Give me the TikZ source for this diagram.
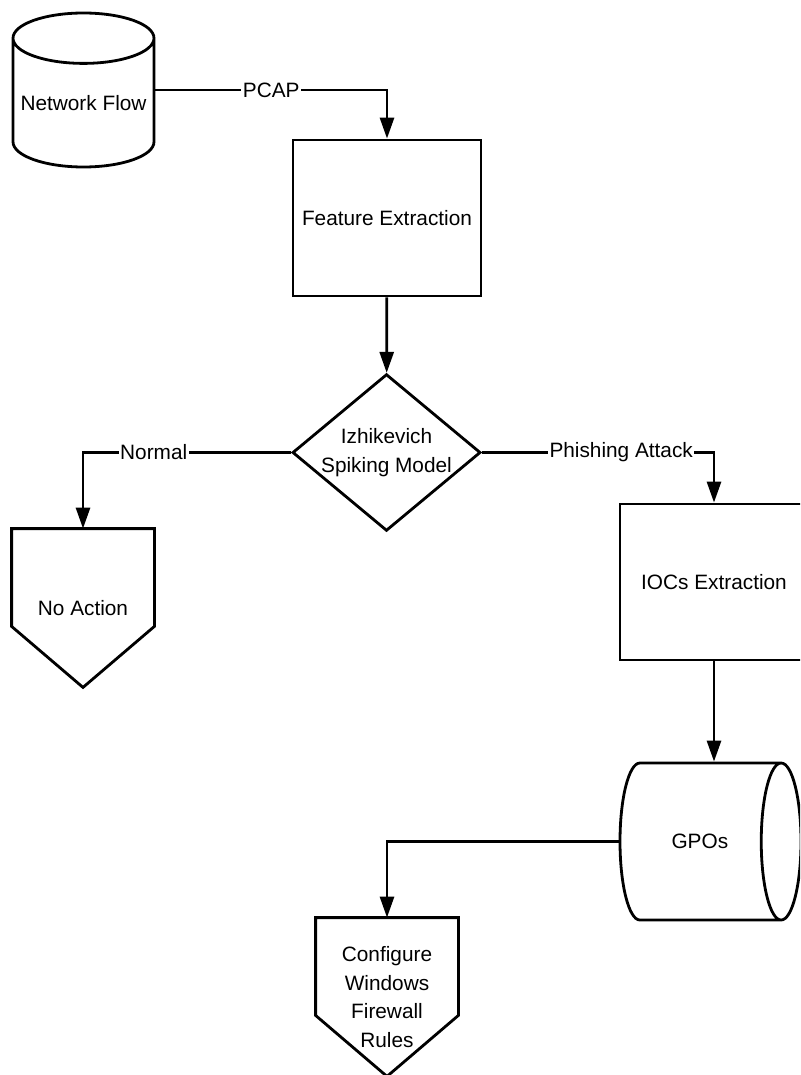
\documentclass[tikz,border=0pt]{standalone}
\usepackage{fontspec}
\setmainfont{Liberation Sans}
\usetikzlibrary{shapes.geometric}
\usetikzlibrary{arrows.meta}

\tikzset{
  flow/.style={-{Triangle[length=21pt,width=14pt]}},
  tag/.style={fill=white, inner sep=1.5pt},
  store/.style={cylinder, draw, aspect=0.4, inner sep=0pt, anchor=shape center},
  process/.style={rectangle, draw, minimum width=188pt, minimum height=156pt},
  decision/.style={diamond, draw, aspect=1.2, inner sep=0pt, align=center,
    minimum width=187pt, minimum height=155pt},
  offpage/.style={rectangle, minimum width=140pt, minimum height=156pt,
    inner sep=0pt, align=center,
    append after command={\pgfextra{
      \draw[line join=miter] (\tikzlastnode.north west) -- (\tikzlastnode.north east)
        -- ([yshift=61pt]\tikzlastnode.south east) -- (\tikzlastnode.south)
        -- ([yshift=61pt]\tikzlastnode.south west) -- cycle;}}}
}

\begin{document}
\begin{tikzpicture}[x=1pt, y=-1pt, line width=2.8pt,
  font=\fontsize{20.8}{28.5}\selectfont]
\useasboundingbox (0,0) rectangle (800,1075);
\clip (0,0) rectangle (800,1075);

\node[store, shape border rotate=90, minimum height=154pt, minimum width=141pt]
  (netflow) at (83.5,90) {Network Flow};
\node[process] (feature) at (387,218) {Feature Extraction};
\node[decision] (izhikevich) at (386.5,452.5) {Izhikevich\\Spiking Model};
\node[offpage] (noaction) at (83,608) {No Action};
\node[process] (iocs) at (714,582) {IOCs Extraction};
\node[store, aspect=2.7, minimum height=181pt, minimum width=157pt]
  (gpos) at (710.5,841.5) {GPOs};
\node[offpage] (firewall) at (387,997) {Configure\\Windows\\Firewall\\Rules};

\draw[flow] (netflow.east |- netflow.shape center) -| node[tag, pos=0.25] {PCAP} (feature);
\draw[flow] (feature) -- (izhikevich);
\draw[flow] (izhikevich) -| node[tag, pos=0.33] {Normal} (noaction);
\draw[flow] (izhikevich) -| node[tag, pos=0.3] {Phishing Attack} (iocs);
\draw[flow] (iocs) -- (iocs |- gpos.north);
\draw[flow] (gpos.west) -| (firewall);
\end{tikzpicture}
\end{document}
